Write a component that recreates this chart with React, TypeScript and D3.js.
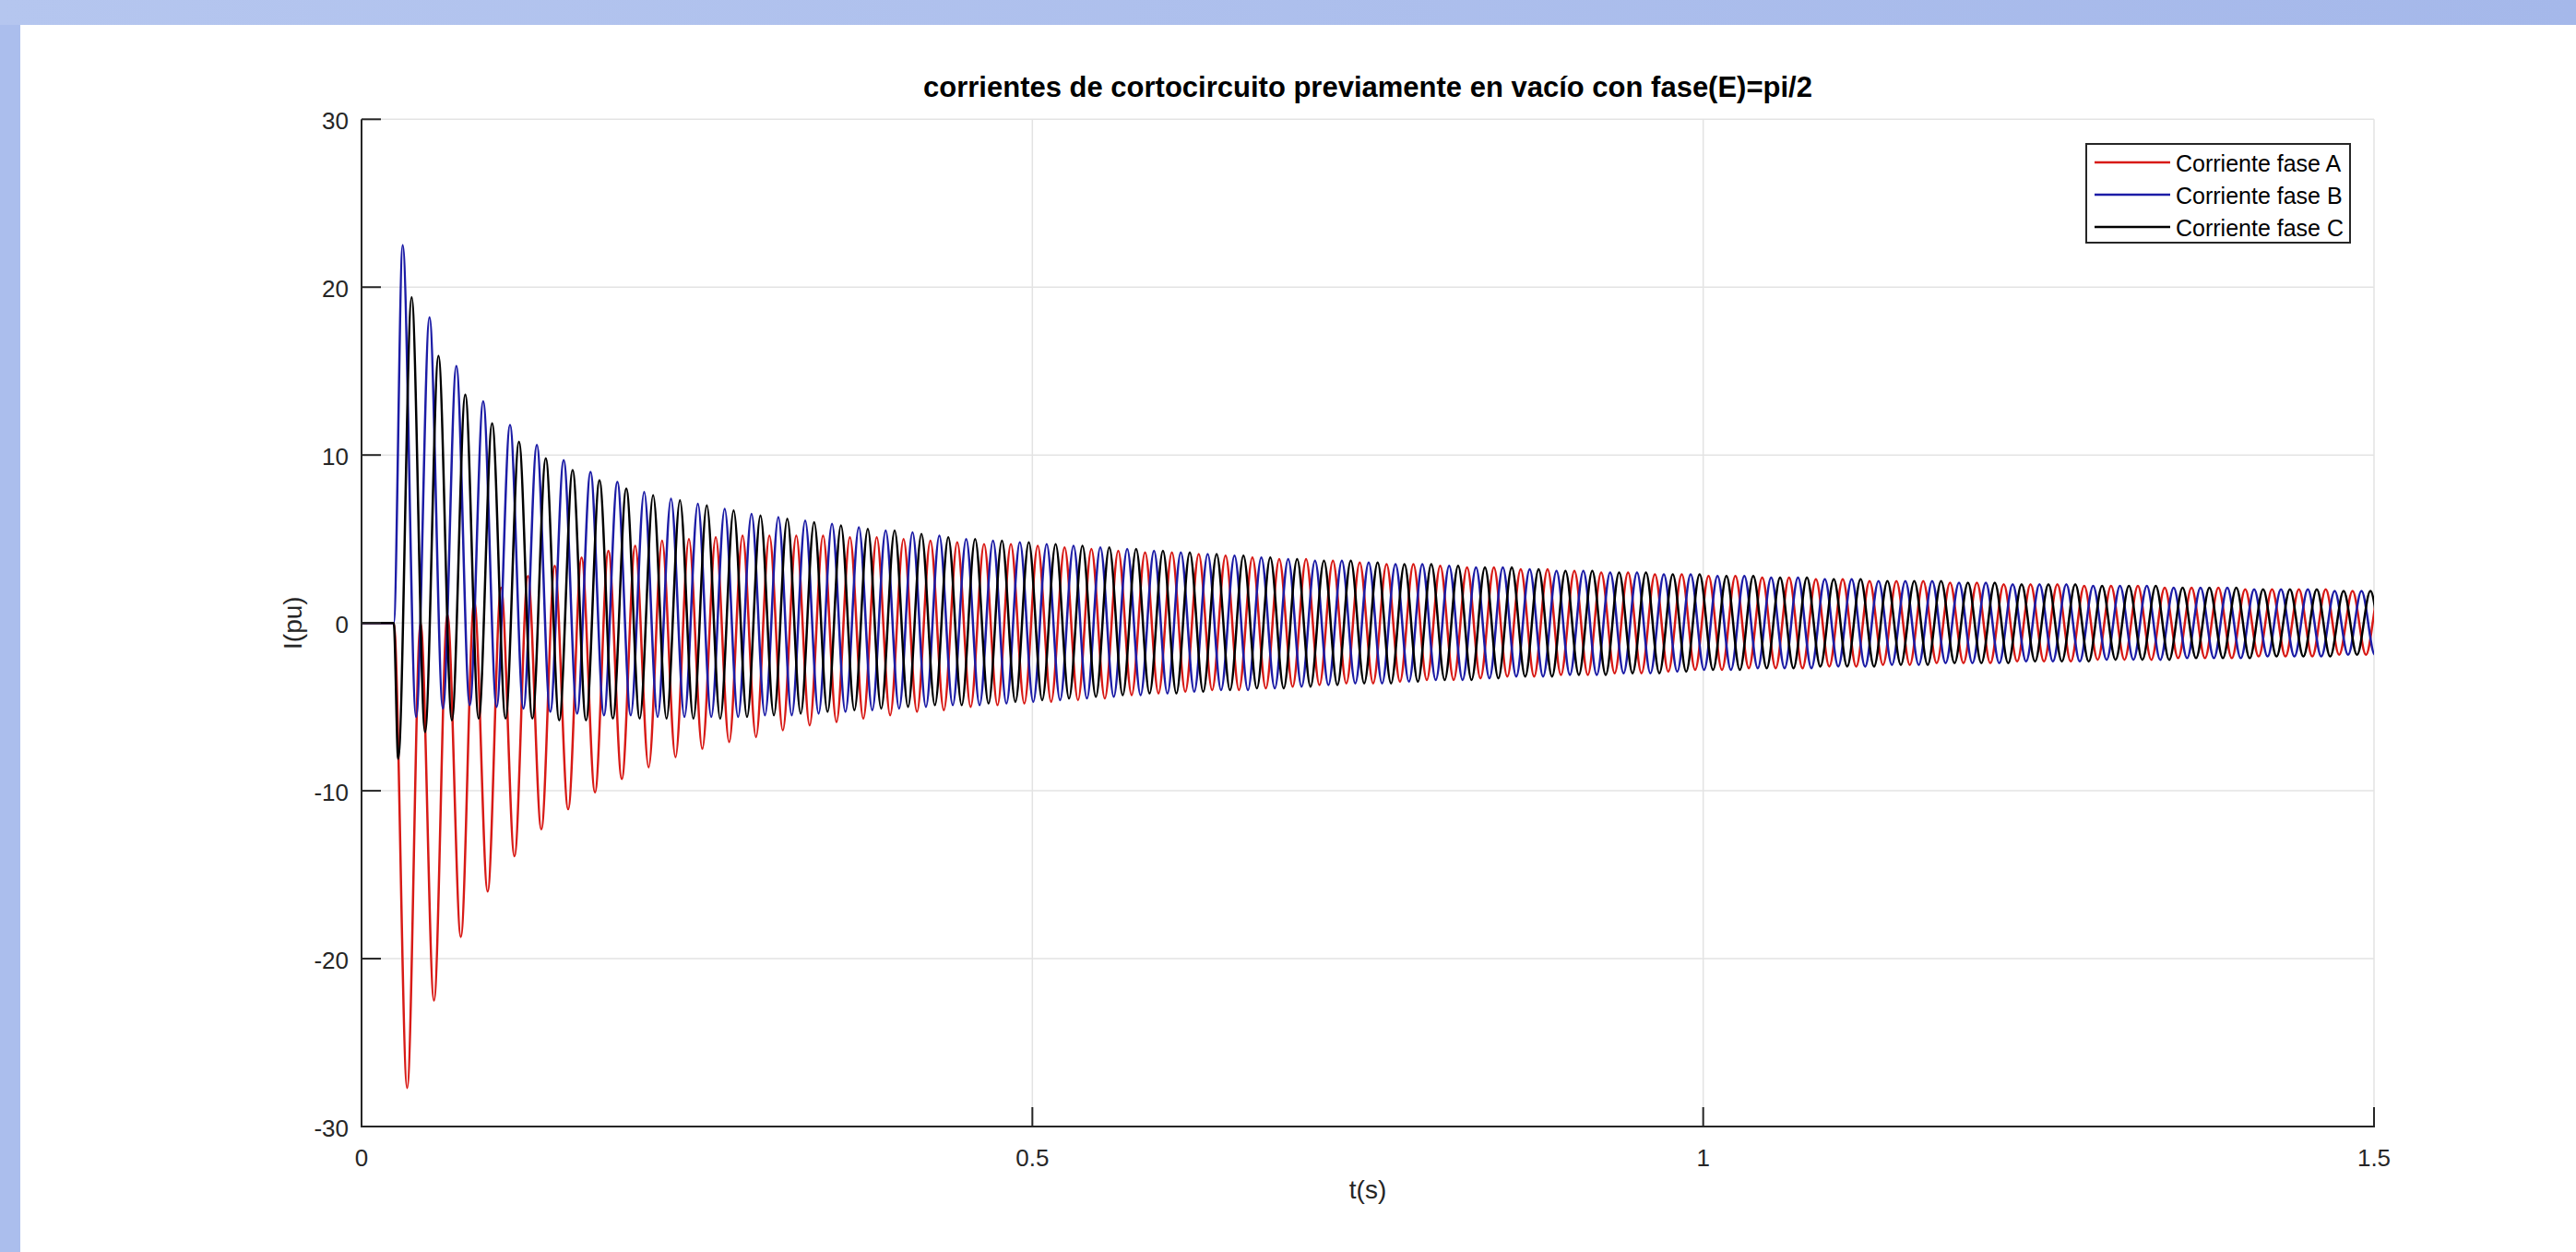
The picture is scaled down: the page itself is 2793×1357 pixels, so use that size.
import React from 'react';
import * as d3 from 'd3';

const W = 2793;
const H = 1357;

// time of the short circuit and the 50 Hz period (s)
const faultTime = 0.024;
const period = 0.02;

const xTicks = [0, 0.5, 1, 1.5];
const yTicks = [-30, -20, -10, 0, 10, 20, 30];

// extremes of each half cycle (pu)
const aTroughs = [-27.7, -22.5, -18.7, -16.0, -13.9, -12.3, -11.1, -10.1, -9.3, -8.6,
  -8.0, -7.5, -7.1, -6.8, -6.4, -6.1, -5.9, -5.7, -5.5, -5.3,
  -5.2, -5.0, -4.9, -4.8, -4.7, -4.6, -4.5, -4.3, -4.2, -4.1,
  -4.0, -4.0, -3.9, -3.8, -3.7, -3.6, -3.6, -3.5, -3.4, -3.4,
  -3.3, -3.2, -3.2, -3.1, -3.1, -3.0, -3.0, -2.9, -2.8, -2.8,
  -2.7, -2.7, -2.7, -2.6, -2.6, -2.5, -2.5, -2.4, -2.4, -2.4,
  -2.3, -2.3, -2.3, -2.2, -2.2, -2.2, -2.1, -2.1, -2.1, -2.0,
  -2.0, -2.0, -1.9, -1.9, -1.9];
const aPeaks = [0.0, 0.5, 1.3, 2.1, 2.8, 3.4, 3.9, 4.3, 4.6, 4.9,
  5.0, 5.1, 5.2, 5.2, 5.2, 5.2, 5.1, 5.1, 5.0, 4.9,
  4.8, 4.7, 4.7, 4.6, 4.5, 4.4, 4.3, 4.2, 4.2, 4.1,
  4.0, 3.9, 3.8, 3.8, 3.7, 3.6, 3.5, 3.5, 3.4, 3.3,
  3.3, 3.2, 3.2, 3.1, 3.0, 3.0, 2.9, 2.9, 2.8, 2.8,
  2.7, 2.7, 2.6, 2.6, 2.5, 2.5, 2.5, 2.4, 2.4, 2.3,
  2.3, 2.3, 2.2, 2.2, 2.2, 2.1, 2.1, 2.1, 2.0, 2.0,
  2.0, 2.0, 1.9, 1.9];

const bPeaks = [22.5, 18.2, 15.3, 13.2, 11.8, 10.6, 9.7, 9.0, 8.4, 7.8,
  7.4, 7.1, 6.8, 6.5, 6.3, 6.1, 5.9, 5.7, 5.5, 5.4,
  5.2, 5.0, 4.9, 4.8, 4.7, 4.6, 4.5, 4.4, 4.3, 4.2,
  4.1, 4.0, 3.9, 3.8, 3.7, 3.7, 3.6, 3.5, 3.5, 3.4,
  3.3, 3.3, 3.2, 3.1, 3.1, 3.0, 3.0, 2.9, 2.9, 2.8,
  2.8, 2.7, 2.7, 2.6, 2.6, 2.5, 2.5, 2.5, 2.4, 2.4,
  2.3, 2.3, 2.3, 2.2, 2.2, 2.2, 2.1, 2.1, 2.1, 2.0,
  2.0, 2.0, 1.9, 1.9, 1.9];
const bTroughs = [-5.6, -5.1, -4.9, -5.0, -5.1, -5.3, -5.4, -5.5, -5.5, -5.6,
  -5.6, -5.6, -5.6, -5.5, -5.5, -5.4, -5.3, -5.2, -5.1, -5.0,
  -4.9, -4.9, -4.8, -4.7, -4.6, -4.5, -4.4, -4.3, -4.2, -4.1,
  -4.0, -4.0, -3.9, -3.8, -3.7, -3.6, -3.6, -3.5, -3.4, -3.4,
  -3.3, -3.2, -3.2, -3.1, -3.1, -3.0, -3.0, -2.9, -2.8, -2.8,
  -2.7, -2.7, -2.7, -2.6, -2.6, -2.5, -2.5, -2.4, -2.4, -2.4,
  -2.3, -2.3, -2.3, -2.2, -2.2, -2.2, -2.1, -2.1, -2.1, -2.0,
  -2.0, -2.0, -1.9, -1.9];

// phase C dips first, then swings up
const cTroughs = [-8.1, -6.5, -5.8, -5.7, -5.7, -5.7, -5.8, -5.8, -5.7, -5.7,
  -5.7, -5.7, -5.7, -5.6, -5.5, -5.4, -5.3, -5.2, -5.1, -5.0,
  -4.9, -4.9, -4.8, -4.7, -4.6, -4.5, -4.4, -4.3, -4.2, -4.2,
  -4.1, -4.0, -3.9, -3.9, -3.8, -3.7, -3.6, -3.6, -3.5, -3.4,
  -3.4, -3.3, -3.2, -3.2, -3.1, -3.1, -3.0, -3.0, -2.9, -2.8,
  -2.8, -2.7, -2.7, -2.6, -2.6, -2.6, -2.5, -2.5, -2.4, -2.4,
  -2.4, -2.3, -2.3, -2.3, -2.2, -2.2, -2.2, -2.1, -2.1, -2.1,
  -2.0, -2.0, -2.0, -1.9, -1.9];
const cPeaks = [19.4, 15.9, 13.6, 11.9, 10.8, 9.8, 9.1, 8.5, 8.0, 7.6,
  7.3, 7.0, 6.7, 6.4, 6.2, 6.0, 5.8, 5.6, 5.5, 5.3,
  5.1, 5.0, 4.9, 4.8, 4.7, 4.6, 4.5, 4.4, 4.3, 4.2,
  4.1, 4.0, 3.9, 3.8, 3.7, 3.7, 3.6, 3.5, 3.5, 3.4,
  3.3, 3.3, 3.2, 3.1, 3.1, 3.0, 3.0, 2.9, 2.9, 2.8,
  2.8, 2.7, 2.7, 2.6, 2.6, 2.5, 2.5, 2.5, 2.4, 2.4,
  2.3, 2.3, 2.3, 2.2, 2.2, 2.2, 2.1, 2.1, 2.1, 2.0,
  2.0, 2.0, 1.9, 1.9, 1.9];

const seriesNames = ['Corriente fase A', 'Corriente fase B', 'Corriente fase C'];
const seriesColors = ['#d81a16', '#1c1ca6', '#000000'];

// first extreme of each phase after the fault, as a fraction of the period
const firstOffsets = [1 / 2, 1 / 3, 1 / 6];
const firstExtremes = [aTroughs, bPeaks, cTroughs];
const secondExtremes = [aPeaks, bTroughs, cPeaks];

const font = '"Liberation Sans", Arial, Helvetica, sans-serif';
const axisColor = '#262626';

const buildSeries = (i: number): [number, number][] => {
  const pts: [number, number][] = [[0, 0], [faultTime, 0]];
  const first = firstExtremes[i];
  const second = secondExtremes[i];
  for (let k = 0; k < first.length; k++) {
    const t = faultTime + firstOffsets[i] * period + k * period;
    pts.push([t, first[k]]);
    if (k < second.length) pts.push([t + period / 2, second[k]]);
  }
  return pts;
};

const App = () => {
  const left = 392, right = 2574, top = 129.3, bottom = 1221;

  const x = d3.scaleLinear().domain([0, 1.5]).range([left, right]);
  const y = d3.scaleLinear().domain([-30, 30]).range([bottom, top]);

  const line = d3.line<[number, number]>()
    .x(d => x(d[0]))
    .y(d => y(d[1]))
    .curve(d3.curveMonotoneX);

  const series = [0, 1, 2].map(buildSeries);

  const tickLen = 21;
  const legendX = 2262, legendY = 156, legendW = 286, legendH = 107;
  const legendRows = [176, 211, 246];

  return (
    <svg width={W} height={H} style={{ position: 'absolute', left: 0, top: 0, background: '#fff' }}>
      <defs>
        <linearGradient id="band" x1="0" x2="1" y1="0" y2="0">
          <stop offset="0" stopColor="#b5c6ef" />
          <stop offset="1" stopColor="#a5b8ea" />
        </linearGradient>
        <clipPath id="plotClip">
          <rect x={left} y={0} width={right - left} height={H} />
        </clipPath>
      </defs>

      {/* window frame */}
      <rect x={0} y={0} width={W} height={H} fill="#fff" />
      <rect x={0} y={0} width={W} height={27} fill="url(#band)" />
      <rect x={0} y={27} width={22} height={H - 27} fill="#abbeed" />

      {/* grid */}
      <g stroke="#e3e3e3" strokeWidth={1.5}>
        {xTicks.filter(t => t > 0).map(t => (
          <line key={'gx' + t} x1={x(t)} x2={x(t)} y1={top} y2={bottom} />
        ))}
        {yTicks.filter(t => t > -30).map(t => (
          <line key={'gy' + t} x1={left} x2={right} y1={y(t)} y2={y(t)} />
        ))}
      </g>

      {/* currents */}
      <g clipPath="url(#plotClip)" fill="none" strokeWidth={2.5} strokeLinejoin="round">
        {series.map((s, i) => (
          <path key={seriesNames[i]} d={line(s) || ''} stroke={seriesColors[i]} />
        ))}
      </g>

      {/* axes */}
      <g stroke={axisColor} strokeWidth={2} fill="none">
        <line x1={left} x2={left} y1={top} y2={bottom + 1} />
        <line x1={left - 1} x2={right + 1} y1={bottom} y2={bottom} />
        {xTicks.map(t => (
          <line key={'tx' + t} x1={x(t)} x2={x(t)} y1={bottom} y2={bottom - tickLen} />
        ))}
        {yTicks.map(t => (
          <line key={'ty' + t} x1={left} x2={left + tickLen} y1={y(t)} y2={y(t)} />
        ))}
      </g>

      <g fontFamily={font} fontSize={26} fill={axisColor}>
        {xTicks.map(t => (
          <text key={'lx' + t} x={x(t)} y={bottom + 34} textAnchor="middle" dominantBaseline="central">
            {String(t)}
          </text>
        ))}
        {yTicks.map(t => (
          <text key={'ly' + t} x={left - 14} y={y(t) + 2} textAnchor="end" dominantBaseline="central">
            {String(t)}
          </text>
        ))}
      </g>

      <text x={(left + right) / 2} y={1289} textAnchor="middle" dominantBaseline="central"
        fontFamily={font} fontSize={28} fill={axisColor}>t(s)</text>
      <text transform={`translate(317, ${(top + bottom) / 2}) rotate(-90)`} textAnchor="middle"
        dominantBaseline="central" fontFamily={font} fontSize={28} fill={axisColor}>I(pu)</text>

      <text x={(left + right) / 2} y={94} textAnchor="middle" dominantBaseline="central"
        fontFamily={font} fontSize={31} fontWeight="bold" fill="#000">
        corrientes de cortocircuito previamente en vacío con fase(E)=pi/2
      </text>

      {/* legend */}
      <g>
        <rect x={legendX} y={legendY} width={legendW} height={legendH} fill="#fff" stroke={axisColor} strokeWidth={2} />
        {seriesNames.map((name, i) => (
          <g key={name}>
            <line x1={legendX + 9} x2={legendX + 91} y1={legendRows[i]} y2={legendRows[i]}
              stroke={seriesColors[i]} strokeWidth={2.5} />
            <text x={legendX + 97} y={legendRows[i] + 1} dominantBaseline="central"
              fontFamily={font} fontSize={25} fill="#000">{name}</text>
          </g>
        ))}
      </g>
    </svg>
  );
};

export default App;
